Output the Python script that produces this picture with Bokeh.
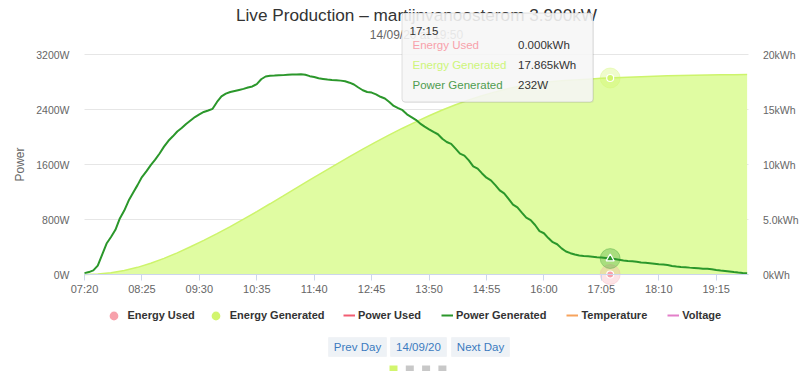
from bokeh.plotting import figure
from bokeh.models import (Range1d, LinearAxis, FixedTicker, Label, BoxAnnotation,
                          Legend, LegendItem, Grid)
from bokeh.embed import file_html
from bokeh.resources import INLINE

# ---------------- data ----------------
title_text = "Live Production – martijnvanoosterom 3.900kW"
subtitle_text = "14/09/20 at 19:50"

x_tick_labels = ["07:20", "08:25", "09:30", "10:35", "11:40", "12:45",
                 "13:50", "14:55", "16:00", "17:05", "18:10", "19:15"]
power_ticks = [0, 800, 1600, 2400, 3200]
power_tick_labels = ["0W", "800W", "1600W", "2400W", "3200W"]
energy_ticks = [0, 5, 10, 15, 20]
energy_tick_labels = ["0kWh", "5.0kWh", "10kWh", "15kWh", "20kWh"]
day_start, day_end = "07:20", "19:52"

power_start = "07:20"
power_step_min = 5
power_generated = [
    20, 35, 60, 130, 290, 450, 545, 650, 815, 930, 1075, 1190,
    1300, 1417, 1500, 1590, 1670, 1760, 1860, 1945, 2010, 2080, 2130, 2190,
    2240, 2290, 2330, 2364, 2385, 2410, 2510, 2590, 2630, 2655, 2670, 2685,
    2700, 2720, 2735, 2770, 2840, 2880, 2890, 2893, 2897, 2900, 2905, 2908,
    2910, 2913, 2905, 2885, 2872, 2855, 2845, 2835, 2830, 2826, 2820, 2810,
    2790, 2763, 2720, 2680, 2655, 2646, 2620, 2585, 2560, 2510, 2452, 2420,
    2390, 2330, 2290, 2250, 2195, 2150, 2110, 2073, 2040, 1975, 1927, 1900,
    1830, 1758, 1730, 1660, 1573, 1540, 1470, 1408, 1370, 1300, 1223, 1180,
    1100, 1015, 975, 900, 826, 790, 720, 631, 600, 530, 470, 440,
    380, 335, 310, 290, 277, 270, 264, 258, 252, 248, 240, 232,
    225, 215, 205, 197, 192, 185, 176, 171, 165, 158, 150, 146,
    138, 125, 115, 108, 106, 100, 95, 90, 85, 83, 75, 65,
    58, 52, 45, 35, 28, 22, 19,
]

energy_start = "07:20"
energy_step_min = 15
energy_generated = [
    0.00, 0.04, 0.15, 0.36, 0.65, 1.02, 1.47, 1.97, 2.52, 3.10, 3.72, 4.36,
    5.03, 5.72, 6.43, 7.15, 7.88, 8.60, 9.31, 10.02, 10.71, 11.39, 12.05, 12.69,
    13.30, 13.88, 14.43, 14.95, 15.43, 15.86, 16.25, 16.60, 16.90, 17.15, 17.35, 17.50,
    17.61, 17.69, 17.76, 17.83, 17.885, 17.94, 17.98, 18.02, 18.06, 18.09, 18.12, 18.14,
    18.16, 18.17, 18.18,
]

hover_time = "17:15"
hover_energy_used = 0.0
hover_energy_generated = 17.865
hover_power_generated = 232
tooltip_rows = [("Energy Used", "0.000kWh"),
                ("Energy Generated", "17.865kWh"),
                ("Power Generated", "232W")]

series_names = ["Energy Used", "Energy Generated", "Power Used",
                "Power Generated", "Temperature", "Voltage"]
buttons = ["Prev Day", "14/09/20", "Next Day"]

# ---------------- styles / layout ----------------
C_POWER = "#2b972b"
C_EFILL = "#e0fca2"
C_ELINE = "#cdf46c"
C_EGEN = "#d2f56e"
C_EUSED = "#f7a1ab"
C_PUSED = "#f25d72"
C_TEMP = "#f7a35c"
C_VOLT = "#e37fc9"
FONT = "Liberation Sans"
NAN = float("nan")

W, H = 800, 371
FL, FR, FT, FB = 84, 748, 54, 274      # plot area in page pixels
PX_PER_MIN = 0.8835


def hm(s):
    h, m = s.split(":")
    return int(h) * 60 + int(m)


t0 = hm(power_start)
power_x = [t0 + i * power_step_min for i in range(len(power_generated))]
e0 = hm(energy_start)
energy_x = [e0 + i * energy_step_min for i in range(len(energy_generated))]
ht = hm(hover_time)
xs, xe = hm(day_start), hm(day_end)

# ranges cover the whole canvas so that all annotations lie inside the frame
x_lo = xs - FL / PX_PER_MIN
x_hi = xs + (W - FL) / PX_PER_MIN
w_per_px = power_ticks[-1] / (FB - FT)
y_lo = -(H - FB) * w_per_px
y_hi = power_ticks[-1] + FT * w_per_px
k = energy_ticks[-1] / power_ticks[-1]

p = figure(width=W, height=H, output_backend="svg", toolbar_location=None,
           x_range=Range1d(x_lo, x_hi), y_range=Range1d(y_lo, y_hi),
           min_border=0, min_border_left=0, min_border_right=0,
           min_border_top=0, min_border_bottom=0)
p.title.visible = False
p.outline_line_color = None
p.background_fill_color = "white"
p.border_fill_color = "white"
p.extra_y_ranges = {"energy": Range1d(y_lo * k, y_hi * k)}

# x axis
xa = p.xaxis[0]
xa.fixed_location = 0
xa.bounds = (xs, xe)
xa.ticker = FixedTicker(ticks=[hm(s) for s in x_tick_labels])
xa.major_label_overrides = {hm(s): s for s in x_tick_labels}
xa.axis_line_color = "#ccd6eb"
xa.major_tick_line_color = "#ccd6eb"
xa.major_tick_out = 6
xa.major_tick_in = 0
xa.minor_tick_line_color = None
xa.major_label_standoff = 2
xa.major_label_text_font = FONT
xa.major_label_text_font_size = "11px"
xa.major_label_text_color = "#666666"

# left axis
ya = p.yaxis[0]
ya.fixed_location = xs
ya.bounds = (power_ticks[0], power_ticks[-1])
ya.ticker = FixedTicker(ticks=power_ticks)
ya.major_label_overrides = dict(zip(power_ticks, power_tick_labels))
ya.axis_line_color = None
ya.major_tick_line_color = None
ya.major_tick_out = 0
ya.minor_tick_line_color = None
ya.major_label_standoff = 15
ya.major_label_text_font = FONT
ya.major_label_text_font_size = "10.5px"
ya.major_label_text_color = "#666666"
ya.axis_label = "Power"
ya.axis_label_standoff = 6
ya.axis_label_text_font = FONT
ya.axis_label_text_font_style = "normal"
ya.axis_label_text_font_size = "12px"
ya.axis_label_text_color = "#666666"

# right axis
ra = LinearAxis(y_range_name="energy", ticker=FixedTicker(ticks=energy_ticks),
                fixed_location=xe, bounds=(energy_ticks[0], energy_ticks[-1]))
ra.major_label_overrides = dict(zip(energy_ticks, energy_tick_labels))
ra.axis_line_color = None
ra.major_tick_line_color = None
ra.major_tick_out = 0
ra.minor_tick_line_color = None
ra.major_label_standoff = 14
ra.major_label_text_font = FONT
ra.major_label_text_font_size = "10.5px"
ra.major_label_text_color = "#666666"
p.add_layout(ra, "right")

# horizontal grid lines, limited to the plotting period
p.xgrid.visible = False
if "cross_bounds" in Grid.properties():
    p.ygrid.ticker = FixedTicker(ticks=power_ticks)
    p.ygrid.grid_line_color = "#e6e6e6"
    p.ygrid.bounds = (power_ticks[0], power_ticks[-1])
    p.ygrid.cross_bounds = (xs, xe)
else:
    p.ygrid.visible = False
    p.segment(x0=[xs] * len(power_ticks), x1=[xe] * len(power_ticks),
              y0=power_ticks, y1=power_ticks, line_color="#e6e6e6", line_width=1)

# series
p.varea(x=energy_x, y1=0, y2=energy_generated, fill_color=C_EFILL,
        y_range_name="energy")
p.line(energy_x, energy_generated, line_color=C_ELINE, line_width=1.5,
       y_range_name="energy")
power_line = p.line(power_x, power_generated, line_color=C_POWER, line_width=2)
# series without readings on this day (legend entries only)
pu_line = p.line(x=[xs], y=[NAN], line_color=C_PUSED, line_width=2)
temp_line = p.line(x=[xs], y=[NAN], line_color=C_TEMP, line_width=2)
volt_line = p.line(x=[xs], y=[NAN], line_color=C_VOLT, line_width=2)

# hover markers
p.scatter([ht], [hover_energy_generated], size=20, color=C_EGEN, alpha=0.35,
          y_range_name="energy")
eg_mark = p.scatter([ht], [hover_energy_generated], size=7, fill_color=C_EGEN,
                    line_color="white", line_width=1.2, y_range_name="energy")
p.scatter([ht], [hover_energy_used], size=20, color=C_EUSED, alpha=0.3,
          y_range_name="energy")
eu_mark = p.scatter([ht], [hover_energy_used], size=7, fill_color=C_EUSED,
                    line_color="white", line_width=1.2, y_range_name="energy")
p.scatter([ht], [hover_power_generated], size=20, color=C_POWER, alpha=0.3)
p.scatter([ht], [hover_power_generated], marker="triangle", size=8,
          fill_color=C_POWER, line_color="white", line_width=1.2)


def sx(X):
    return X


def sy(Y):
    return H - Y


def txt(X, Y, s, size, color, align="left", bold=False, baseline="middle"):
    lab = Label(x=sx(X), y=sy(Y), x_units="screen", y_units="screen", text=s,
                text_font=FONT, text_font_size=size, text_color=color,
                text_align=align, text_baseline=baseline,
                text_font_style="bold" if bold else "normal")
    p.add_layout(lab)
    return lab


def box(X0, Y0, X1, Y1, fill, line=None, alpha=1.0, radius=0):
    b = BoxAnnotation(left=sx(X0), right=sx(X1), top=sy(Y0), bottom=sy(Y1),
                      left_units="screen", right_units="screen",
                      top_units="screen", bottom_units="screen",
                      fill_color=fill, fill_alpha=alpha,
                      line_color=line, line_width=1, border_radius=radius)
    p.add_layout(b)
    return b


# title & subtitle
txt(416, 14.5, title_text, "17.2px", "#333333", align="center", baseline="alphabetic")
txt(416, 34, subtitle_text, "12px", "#666666", align="center")

# legends
leg_common = dict(orientation="horizontal", padding=0, margin=0,
                  background_fill_alpha=0, border_line_color=None,
                  label_text_font=FONT, label_text_font_size="11px",
                  label_text_font_style="bold", label_text_color="#333333")
leg1 = Legend(items=[LegendItem(label=series_names[0], renderers=[eu_mark]),
                     LegendItem(label=series_names[1], renderers=[eg_mark])],
              location=(100.5, H - 327.5), glyph_width=25, glyph_height=25,
              label_standoff=2, spacing=8, **leg_common)
leg2 = Legend(items=[LegendItem(label=series_names[2], renderers=[pu_line]),
                     LegendItem(label=series_names[3], renderers=[power_line]),
                     LegendItem(label=series_names[4], renderers=[temp_line]),
                     LegendItem(label=series_names[5], renderers=[volt_line])],
              location=(343, H - 321), glyph_width=12, glyph_height=12,
              label_standoff=3, spacing=20, **leg_common)
p.add_layout(leg1)
p.add_layout(leg2)

# buttons
btn_boxes = [(328, 386), (390, 446), (451, 509)]
for (bx0, bx1), b in zip(btn_boxes, buttons):
    box(bx0, 337, bx1, 356, "#eef2f6", line="#e3e8ee")
    txt((bx0 + bx1) / 2, 346.5, b, "11.5px", "#3b7bbf", align="center")

# page dots
for i, c in enumerate(["#d2f56e", "#c8c8c8", "#c8c8c8", "#c8c8c8"]):
    box(389 + 16.3 * i, 365, 397 + 16.3 * i, 373, c)

# tooltip
box(402.5, 13.5, 593.5, 102.5, "#888888", alpha=0.12, radius=3)
box(401.5, 12.5, 592.5, 101.5, "#f7f7f7", line="#9a9a9a", alpha=0.88, radius=3)
txt(409, 30, hover_time, "11.5px", "#333333", baseline="alphabetic")
row_colors = [C_EUSED, "#cdf57a", "#4f9c4f"]
for i, ((name, val), c) in enumerate(zip(tooltip_rows, row_colors)):
    y = 44 + 20 * i
    txt(412, y, name, "11.5px", c)
    txt(517.5, y, val, "11.5px", "#333333")

open("out.html", "w").write(file_html(p, INLINE))
